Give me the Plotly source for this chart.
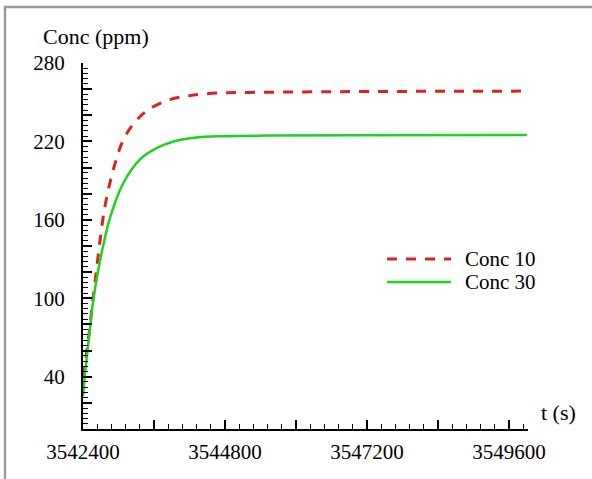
import plotly.graph_objects as go

# ---- data ----
series_names = ["Conc 10", "Conc 30"]

t_conc10 = [3542410, 3542450, 3542500, 3542550, 3542600, 3542660, 3542770, 3542910,
            3543080, 3543300, 3543530, 3543870, 3544200, 3544660, 3545200, 3546500,
            3548000, 3549900]
v_conc10 = [40, 55, 72, 92, 111, 134, 170, 198,
            221, 236, 245, 252, 255, 257, 257.5, 258,
            258.3, 258.5]

t_conc30 = [3542400, 3542430, 3542460, 3542520, 3542575, 3542660, 3542740, 3542860,
            3543080, 3543360, 3543650, 3543930, 3544320, 3544770, 3545500, 3547000,
            3549900]
v_conc30 = [25, 40, 53, 78, 99, 122, 140, 162,
            188, 206, 215, 220, 223, 224, 224.5, 224.8,
            225]

y_tickvals = list(range(0, 281, 20))
y_labels = [40, 100, 160, 220, 280]
x_tickvals = list(range(3542400, 3549601, 1200))
x_labels = [3542400, 3544800, 3547200, 3549600]

RED = "#e0201e"
GREEN = "#1fd21f"
FONT = "Liberation Serif"

fig = go.Figure()
fig.add_trace(go.Scatter(x=t_conc10, y=v_conc10, mode="lines", name=series_names[0],
                         line=dict(color=RED, width=3, dash="10px,9px", shape="spline"),
                         showlegend=False))
fig.add_trace(go.Scatter(x=t_conc30, y=v_conc30, mode="lines", name=series_names[1],
                         line=dict(color=GREEN, width=2.5, shape="spline"),
                         showlegend=False))

fig.update_layout(
    width=592, height=479,
    margin=dict(l=83, r=64, t=63, b=50),
    paper_bgcolor="white", plot_bgcolor="white",
    font=dict(family=FONT, size=21, color="black"),
)

fig.update_xaxes(
    range=[3542400, 3549920], showgrid=False, zeroline=False,
    showline=True, linecolor="black", linewidth=2,
    tickmode="array", tickvals=x_tickvals,
    ticktext=[str(v) if v in x_labels else "" for v in x_tickvals],
    ticks="inside", ticklen=9, tickwidth=2, tickcolor="black",
    ticklabelstandoff=3,
    minor=dict(tickmode="linear", tick0=3542400, dtick=240, ticks="inside",
               ticklen=5, tickwidth=1, tickcolor="black"),
)
fig.update_yaxes(
    range=[0, 280], showgrid=False, zeroline=False,
    showline=True, linecolor="black", linewidth=2,
    tickmode="array", tickvals=y_tickvals,
    ticktext=[str(v) if v in y_labels else "" for v in y_tickvals],
    ticks="inside", ticklen=9, tickwidth=2, tickcolor="black",
    ticklabelstandoff=12,
    minor=dict(tickmode="linear", tick0=0, dtick=4, ticks="inside",
               ticklen=5, tickwidth=1, tickcolor="black"),
)

# axis titles
fig.add_annotation(text="Conc (ppm)", xref="paper", yref="paper",
                   x=(41 - 83) / 445, y=(429 - 36) / 366, xanchor="left", yanchor="middle",
                   showarrow=False, font=dict(family=FONT, size=22))
fig.add_annotation(text="t (s)", xref="paper", yref="paper",
                   x=(539 - 83) / 445, y=(429 - 412) / 366, xanchor="left", yanchor="middle",
                   showarrow=False, font=dict(family=FONT, size=22))

# legend (drawn manually to match long line samples)
leg_rows = [(259, RED, 3, "10px,9px"), (282, GREEN, 2.5, "solid")]
for name, (py, col, w, dash) in zip(series_names, leg_rows):
    yp = (429 - py) / 366
    fig.add_shape(type="line", xref="paper", yref="paper",
                  x0=(387 - 83) / 445, x1=(451 - 83) / 445, y0=yp, y1=yp,
                  line=dict(color=col, width=w, dash=dash))
    fig.add_annotation(text=name, xref="paper", yref="paper",
                       x=(463 - 83) / 445, y=yp, xanchor="left", yanchor="middle",
                       showarrow=False, font=dict(family=FONT, size=21))

# outer gray frame
fig.add_shape(type="rect", xref="paper", yref="paper",
              x0=(5 - 83) / 445, x1=(620 - 83) / 445,
              y0=(429 - 500) / 366, y1=(429 - 7) / 366,
              line=dict(color="#9a9a9a", width=2.5), fillcolor="rgba(0,0,0,0)", layer="below")

fig.write_html("out.html")
